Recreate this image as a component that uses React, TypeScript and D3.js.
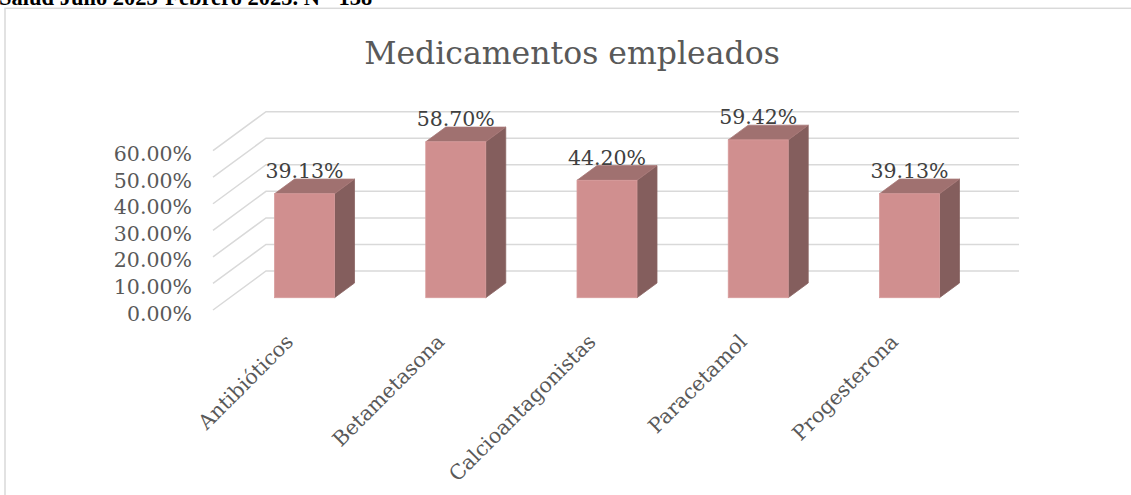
import React from "react";
import * as d3 from "d3";

const categories = ["Antibióticos", "Betametasona", "Calcioantagonistas", "Paracetamol", "Progesterona"];
const values = [39.13, 58.7, 44.2, 59.42, 39.13];
const valueLabels = ["39.13%", "58.70%", "44.20%", "59.42%", "39.13%"];
const yTicks = [0, 10, 20, 30, 40, 50, 60];
const yTickLabels = ["0.00%", "10.00%", "20.00%", "30.00%", "40.00%", "50.00%", "60.00%"];
const title = "Medicamentos empleados";
const caption = "Salud Julio 2023-Febrero 2025. N= 138";

const W = 1131;
const H = 495;
const FONT = "'DejaVu Serif', serif";

export default function App() {
  const x = d3.scaleBand<string>().domain(categories).range([228.9, 985.1]).paddingInner(0);
  // bar front face scale
  const yBar = d3.scaleLinear().domain([0, 60]).range([297.7, 297.7 - 60 * 2.656]);
  // back-wall gridline scale (value t drawn at back; label at front end)
  const yBack = d3.scaleLinear().domain([0, 60]).range([271, 271 - 60 * 2.656]);
  const depthX = 20, depthY = -14.7;
  const wallDx = 53, wallDy = -39;
  const wallLeft = 213, wallBack = wallLeft + wallDx, wallRight = 1019;
  const barW = 60;

  return (
    <svg width={W} height={H} style={{ position: "absolute", left: 0, top: 0, background: "#fff" }}>
      <text x={-1} y={5} fontFamily="'Liberation Serif', serif" fontWeight="bold" fontSize={22.5} fill="#000">
        {caption}
      </text>
      <rect x={5} y={8.3} width={W + 20} height={H + 20} fill="none" stroke="#d9d9d9" strokeWidth={1.5} />
      <text x={572} y={64} textAnchor="middle" fontFamily={FONT} fontSize={31.5} fill="#595959">
        {title}
      </text>
      {/* gridlines */}
      <g stroke="#d9d9d9" strokeWidth={1.5} fill="none">
        {yTicks.map((t) => {
          const yb = yBack(t);
          return (
            <polyline
              key={t}
              points={`${wallLeft},${yb - wallDy} ${wallBack},${yb} ${wallRight},${yb}`}
            />
          );
        })}
      </g>
      {/* y labels */}
      <g fontFamily={FONT} fontSize={20.5} fill="#595959" textAnchor="end">
        {yTicks.map((t, i) => (
          <text key={t} x={192} y={yBack(t) - wallDy + 10.5}>
            {yTickLabels[i]}
          </text>
        ))}
      </g>
      {/* bars */}
      {categories.map((c, i) => {
        const cx = (x(c) as number) + x.bandwidth() / 2;
        const x0 = cx - barW / 2;
        const x1 = cx + barW / 2;
        const yT = yBar(values[i]);
        const yB = yBar(0);
        return (
          <g key={c}>
            <polygon
              points={`${x1},${yT} ${x1 + depthX},${yT + depthY} ${x1 + depthX},${yB + depthY} ${x1},${yB}`}
              fill="#845E5D"
              stroke="#8a6463"
              strokeWidth={0.8}
            />
            <polygon
              points={`${x0},${yT} ${x0 + depthX},${yT + depthY} ${x1 + depthX},${yT + depthY} ${x1},${yT}`}
              fill="#A07170"
              stroke="#a87877"
              strokeWidth={0.8}
            />
            <rect x={x0} y={yT} width={barW} height={yB - yT} fill="#D08F8F" stroke="#d89c9c" strokeWidth={0.8} />
            <text
              x={cx}
              y={yT - 15.5}
              textAnchor="middle"
              fontFamily={FONT}
              fontSize={20.5}
              fill="#404040"
            >
              {valueLabels[i]}
            </text>
            <text
              transform={`translate(${cx - 10},${343}) rotate(-45)`}
              textAnchor="end"
              fontFamily={FONT}
              fontSize={20.5}
              fill="#595959"
            >
              {c}
            </text>
          </g>
        );
      })}
    </svg>
  );
}
